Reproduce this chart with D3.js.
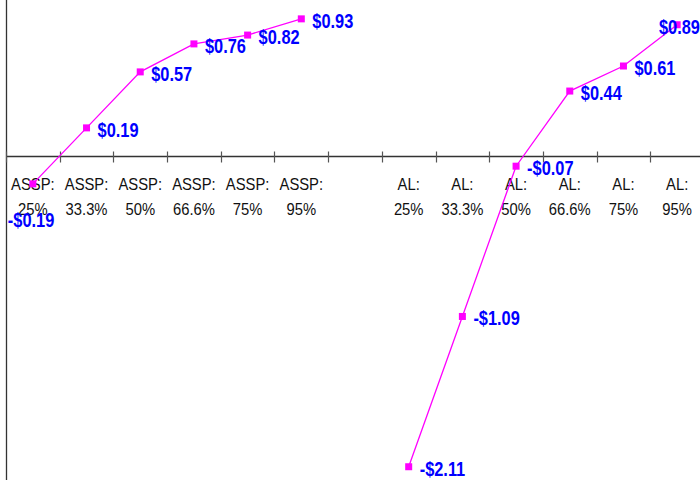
<!DOCTYPE html>
<html>
<head>
<meta charset="utf-8">
<script src="https://cdn.jsdelivr.net/npm/d3@7"></script>
<style>
  html, body { margin: 0; padding: 0; background: #fff; }
  svg { display: block; }
</style>
</head>
<body>
<svg id="chart" width="700" height="480"></svg>
<script>
const categories = ["ASSP: 25%", "ASSP: 33.3%", "ASSP: 50%", "ASSP: 66.6%", "ASSP: 75%", "ASSP: 95%",
                    "",
                    "AL: 25%", "AL: 33.3%", "AL: 50%", "AL: 66.6%", "AL: 75%", "AL: 95%"];
const asspCats = ["ASSP: 25%", "ASSP: 33.3%", "ASSP: 50%", "ASSP: 66.6%", "ASSP: 75%", "ASSP: 95%"];
const asspValues = [-0.19, 0.19, 0.57, 0.76, 0.82, 0.93];
const alCats = ["AL: 25%", "AL: 33.3%", "AL: 50%", "AL: 66.6%", "AL: 75%", "AL: 95%"];
const alValues = [-2.11, -1.09, -0.07, 0.44, 0.61, 0.89];

const W = 700, H = 480;
const svg = d3.select("#chart");
const LABEL_FONT = "'Liberation Sans', Arial, sans-serif";
const CAT_SX = 0.87, VAL_SX = 0.82;

const x = d3.scaleBand().domain(categories.map((c, i) => i)).range([6, 704]).paddingInner(0).paddingOuter(0);
const y = d3.scaleLinear().domain([-2.2, 1.058]).range([480, 0]);

const xc = i => x(i) + x.bandwidth() / 2;

// y axis line
svg.append("line")
  .attr("x1", 6.5).attr("x2", 6.5).attr("y1", 0).attr("y2", H)
  .attr("stroke", "#333").attr("stroke-width", 1.3);

// x axis at zero
const y0 = Math.round(y(0)) + 0.5;
svg.append("line")
  .attr("x1", 6).attr("x2", W).attr("y1", y0).attr("y2", y0)
  .attr("stroke", "#333").attr("stroke-width", 1.3);

// ticks at band boundaries
svg.selectAll("line.tick").data(categories.map((c, i) => i)).enter().append("line")
  .attr("class", "tick")
  .attr("x1", i => Math.round(x(i)) + 0.5).attr("x2", i => Math.round(x(i)) + 0.5)
  .attr("y1", y0 - 5).attr("y2", y0 + 6)
  .attr("stroke", "#555").attr("stroke-width", 1.2);

// category labels (two lines each)
categories.forEach((c, i) => {
  if (c === "") return;
  const parts = c.split(" ");
  parts.forEach((p, k) => {
    svg.append("text")
      .attr("transform", `translate(${xc(i)},${y0 + 33 + k * 25.5}) scale(${CAT_SX},1)`)
      .attr("text-anchor", "middle")
      .attr("font-family", LABEL_FONT)
      .attr("font-size", 17)
      .attr("fill", "#111")
      .text(p);
  });
});

const fmt = v => (v < 0 ? "-$" : "$") + Math.abs(v).toFixed(2);

function drawSeries(cats, vals) {
  const pts = cats.map((c, k) => ({i: categories.indexOf(c), v: vals[k]}));
  const line = d3.line().x(d => xc(d.i)).y(d => y(d.v));
  svg.append("path").datum(pts)
    .attr("d", line).attr("fill", "none")
    .attr("stroke", "#ff00ff").attr("stroke-width", 1.3);
  svg.selectAll(null).data(pts).enter().append("rect")
    .attr("x", d => xc(d.i) - 3.5).attr("y", d => y(d.v) - 3.5)
    .attr("width", 7).attr("height", 7)
    .attr("fill", "#ff00ff");
  svg.selectAll(null).data(pts).enter().append("text")
    .attr("font-family", LABEL_FONT)
    .attr("font-size", 20).attr("font-weight", "bold")
    .attr("fill", "#0000ff")
    .text(d => fmt(d.v))
    .each(function(d) {
      const t = d3.select(this);
      const w = this.getComputedTextLength() * VAL_SX;
      let lx = xc(d.i) + 11, ly = y(d.v) + 9;
      // avoid overlap with the category label band
      if (ly - 14 > y0 + 14 && ly - 14 < y0 + 62) {
        ly = y0 + 70; lx = xc(d.i) - 25;
      }
      if (lx + w > W) lx = W - w;
      if (lx < 7) lx = 7;
      t.attr("transform", `translate(${lx},${ly}) scale(${VAL_SX},1)`);
    });
}
drawSeries(asspCats, asspValues);
drawSeries(alCats, alValues);
</script>
</body>
</html>
